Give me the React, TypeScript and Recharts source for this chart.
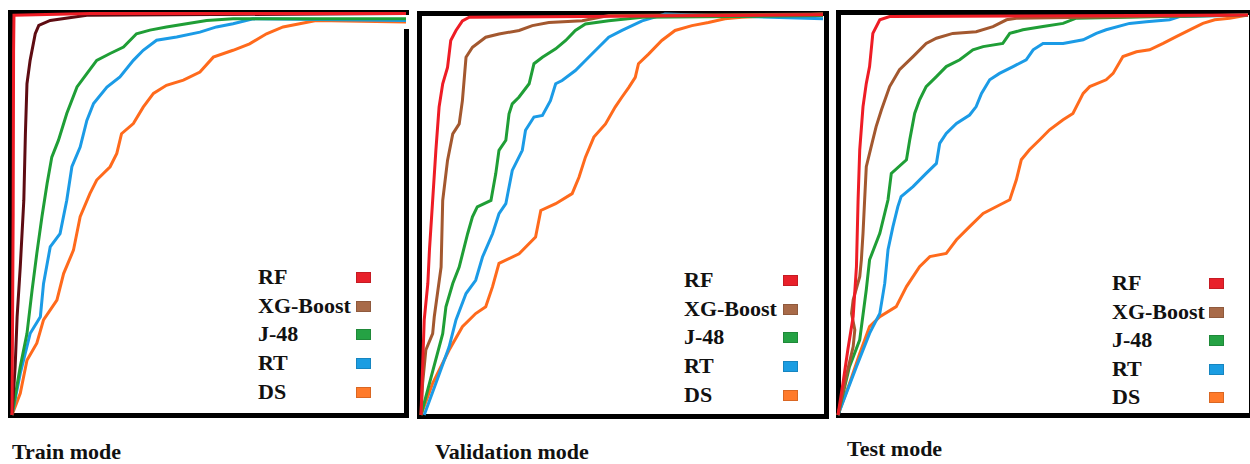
import { LineChart, Line, XAxis, YAxis } from 'recharts';

type Pt = [number, number];

// Series and captions
const seriesNames = ['RF', 'XG-Boost', 'J-48', 'RT', 'DS'];
const panelTitles = ['Train mode', 'Validation mode', 'Test mode'];

// Train mode curves, [false positive rate, true positive rate]
const trainRF: Pt[] = [[0, 0], [0.003, 0.5], [0.004, 0.9], [0.005, 0.992], [0.2, 0.996], [1, 0.996]];
const trainXG: Pt[] = [
  [0, 0], [0.008, 0.12], [0.013, 0.244], [0.021, 0.368], [0.03, 0.533], [0.034, 0.698],
  [0.038, 0.822], [0.046, 0.88], [0.059, 0.946], [0.068, 0.967], [0.097, 0.979], [0.19, 0.992], [1, 0.996],
];
const trainJ48: Pt[] = [
  [0, 0], [0.021, 0.12], [0.038, 0.202], [0.051, 0.31], [0.063, 0.401], [0.076, 0.492], [0.089, 0.574],
  [0.101, 0.64], [0.118, 0.682], [0.139, 0.748], [0.165, 0.814], [0.19, 0.847], [0.215, 0.88],
  [0.249, 0.897], [0.283, 0.913], [0.316, 0.946], [0.35, 0.955], [0.392, 0.963], [0.443, 0.971],
  [0.494, 0.979], [0.561, 0.983], [1, 0.983],
];
const trainRT: Pt[] = [
  [0, 0], [0.021, 0.103], [0.046, 0.202], [0.072, 0.244], [0.08, 0.326], [0.097, 0.417], [0.122, 0.45],
  [0.139, 0.533], [0.152, 0.616], [0.173, 0.665], [0.19, 0.731], [0.207, 0.773], [0.241, 0.814],
  [0.274, 0.839], [0.308, 0.88], [0.333, 0.905], [0.367, 0.93], [0.418, 0.938], [0.477, 0.95],
  [0.519, 0.963], [0.561, 0.971], [0.612, 0.983], [1, 0.979],
];
const trainDS: Pt[] = [
  [0, 0], [0.021, 0.054], [0.038, 0.136], [0.063, 0.178], [0.08, 0.236], [0.114, 0.285], [0.131, 0.351],
  [0.156, 0.409], [0.173, 0.492], [0.198, 0.55], [0.215, 0.583], [0.249, 0.616], [0.266, 0.649],
  [0.278, 0.698], [0.308, 0.723], [0.333, 0.764], [0.359, 0.798], [0.392, 0.818], [0.435, 0.831],
  [0.477, 0.851], [0.511, 0.888], [0.561, 0.905], [0.603, 0.921], [0.646, 0.946], [0.688, 0.963],
  [0.73, 0.971], [0.772, 0.979], [1, 0.975],
];

// Validation mode curves
const valRF: Pt[] = [
  [0, 0], [0.004, 0.12], [0.008, 0.237], [0.017, 0.328], [0.021, 0.411], [0.029, 0.535], [0.037, 0.66],
  [0.045, 0.768], [0.054, 0.826], [0.066, 0.867], [0.074, 0.934], [0.087, 0.959], [0.103, 0.983],
  [0.12, 0.992], [1, 0.998],
];
const valXG: Pt[] = [
  [0, 0], [0.004, 0.079], [0.012, 0.162], [0.029, 0.203], [0.033, 0.245], [0.05, 0.369], [0.054, 0.535],
  [0.066, 0.635], [0.079, 0.701], [0.095, 0.726], [0.103, 0.784], [0.112, 0.892], [0.128, 0.917],
  [0.161, 0.942], [0.194, 0.95], [0.244, 0.959], [0.277, 0.971], [0.318, 0.979], [0.401, 0.983],
  [0.467, 0.996], [1, 1],
];
const valJ48: Pt[] = [
  [0, 0], [0.021, 0.079], [0.054, 0.203], [0.062, 0.27], [0.079, 0.328], [0.095, 0.369], [0.116, 0.452],
  [0.128, 0.494], [0.14, 0.519], [0.174, 0.535], [0.186, 0.602], [0.194, 0.66], [0.211, 0.685],
  [0.219, 0.751], [0.227, 0.776], [0.244, 0.793], [0.269, 0.826], [0.281, 0.876], [0.302, 0.892],
  [0.335, 0.913], [0.36, 0.934], [0.384, 0.959], [0.409, 0.975], [0.467, 0.983], [0.55, 0.992], [1, 0.996],
];
const valRT: Pt[] = [
  [0.008, 0], [0.037, 0.079], [0.07, 0.17], [0.087, 0.237], [0.112, 0.303], [0.136, 0.336], [0.153, 0.394],
  [0.178, 0.452], [0.194, 0.502], [0.211, 0.527], [0.227, 0.61], [0.252, 0.66], [0.26, 0.71],
  [0.281, 0.743], [0.302, 0.747], [0.322, 0.784], [0.335, 0.826], [0.351, 0.834], [0.384, 0.859],
  [0.409, 0.884], [0.442, 0.917], [0.467, 0.942], [0.5, 0.959], [0.55, 0.983], [0.607, 1], [1, 0.988],
];
const valDS: Pt[] = [
  [0, 0], [0.029, 0.079], [0.07, 0.162], [0.103, 0.22], [0.136, 0.253], [0.161, 0.27], [0.178, 0.32],
  [0.194, 0.378], [0.244, 0.402], [0.285, 0.444], [0.298, 0.51], [0.335, 0.527], [0.376, 0.552],
  [0.393, 0.593], [0.409, 0.643], [0.43, 0.693], [0.459, 0.726], [0.483, 0.768], [0.5, 0.793],
  [0.517, 0.817], [0.533, 0.842], [0.541, 0.876], [0.566, 0.9], [0.599, 0.934], [0.632, 0.959],
  [0.674, 0.971], [0.715, 0.979], [0.756, 0.988], [0.798, 0.992], [1, 1],
];

// Test mode curves
const testRF: Pt[] = [
  [0, 0], [0.012, 0.079], [0.024, 0.163], [0.037, 0.246], [0.045, 0.371], [0.049, 0.538], [0.053, 0.663],
  [0.061, 0.771], [0.069, 0.829], [0.077, 0.871], [0.085, 0.954], [0.102, 0.988], [0.126, 0.996], [1, 1],
];
const testXG: Pt[] = [
  [0, 0], [0.02, 0.096], [0.037, 0.171], [0.041, 0.213], [0.033, 0.254], [0.037, 0.288], [0.053, 0.346],
  [0.057, 0.388], [0.061, 0.454], [0.065, 0.538], [0.069, 0.621], [0.085, 0.688], [0.093, 0.721],
  [0.106, 0.763], [0.126, 0.821], [0.15, 0.863], [0.183, 0.896], [0.215, 0.929], [0.24, 0.942],
  [0.28, 0.954], [0.337, 0.958], [0.378, 0.971], [0.411, 0.988], [0.435, 0.992], [1, 1],
];
const testJ48: Pt[] = [
  [0, 0], [0.028, 0.121], [0.053, 0.188], [0.069, 0.313], [0.077, 0.388], [0.102, 0.454], [0.122, 0.538],
  [0.13, 0.604], [0.167, 0.638], [0.175, 0.688], [0.187, 0.754], [0.199, 0.788], [0.215, 0.821],
  [0.24, 0.846], [0.264, 0.871], [0.297, 0.888], [0.329, 0.913], [0.354, 0.921], [0.402, 0.929],
  [0.419, 0.954], [0.451, 0.963], [0.5, 0.971], [0.549, 0.979], [0.581, 0.992], [0.793, 0.996], [1, 1],
];
const testRT: Pt[] = [
  [0, 0], [0.045, 0.121], [0.077, 0.204], [0.102, 0.254], [0.114, 0.329], [0.122, 0.413], [0.134, 0.471],
  [0.146, 0.521], [0.154, 0.546], [0.183, 0.571], [0.215, 0.604], [0.24, 0.629], [0.248, 0.679],
  [0.264, 0.704], [0.289, 0.729], [0.321, 0.75], [0.337, 0.771], [0.35, 0.804], [0.37, 0.838],
  [0.394, 0.854], [0.427, 0.871], [0.459, 0.888], [0.476, 0.913], [0.5, 0.929], [0.549, 0.929],
  [0.598, 0.938], [0.63, 0.954], [0.654, 0.963], [0.711, 0.979], [0.752, 0.983], [0.809, 0.988],
  [0.833, 0.996], [1, 1],
];
const testDS: Pt[] = [
  [0, 0], [0.028, 0.079], [0.053, 0.154], [0.077, 0.221], [0.102, 0.246], [0.142, 0.271], [0.167, 0.321],
  [0.199, 0.371], [0.224, 0.396], [0.264, 0.404], [0.289, 0.438], [0.321, 0.471], [0.354, 0.504],
  [0.394, 0.525], [0.419, 0.538], [0.435, 0.588], [0.447, 0.638], [0.467, 0.663], [0.492, 0.688],
  [0.516, 0.713], [0.549, 0.738], [0.573, 0.754], [0.598, 0.804], [0.614, 0.821], [0.654, 0.838],
  [0.671, 0.854], [0.695, 0.896], [0.728, 0.908], [0.76, 0.913], [0.793, 0.929], [0.825, 0.946],
  [0.858, 0.963], [0.89, 0.979], [0.919, 0.988], [0.955, 0.992], [1, 1],
];

// Colours
const lineColors = ['#ee1c25', '#a3582f', '#1f9e36', '#1b9be6', '#ff6a1c'];
const trainXGColor = '#5e0c12';
const swatchColors = ['#e8202a', '#a86a48', '#25a244', '#1b9de2', '#ff7a2a'];

const serif = '"Liberation Serif"';
const M = 4; // chart margin so lines on the edges are not clipped

interface PanelLayout {
  frame: { left: number; top: number; right: number; bottom: number; rightTop: number };
  plot: { x0: number; x1: number; y1: number; y0: number };
  legend: { textX: number; swatchX: number; rowY: number; step: number };
  caption: { x: number; y: number };
}

const layouts: PanelLayout[] = [
  {
    frame: { left: 8, top: 10, right: 409, bottom: 418, rightTop: 29 },
    plot: { x0: 12, x1: 406, y1: 12, y0: 415 },
    legend: { textX: 258, swatchX: 356, rowY: 277, step: 28.7 },
    caption: { x: 12, y: 441 },
  },
  {
    frame: { left: 417, top: 11, right: 829, bottom: 419, rightTop: 11 },
    plot: { x0: 421, x1: 823, y1: 14, y0: 415 },
    legend: { textX: 684, swatchX: 783, rowY: 280, step: 28.7 },
    caption: { x: 435, y: 441 },
  },
  {
    frame: { left: 836, top: 10, right: 1254, bottom: 418, rightTop: 10 },
    plot: { x0: 838, x1: 1248, y1: 15, y0: 415 },
    legend: { textX: 1112, swatchX: 1209, rowY: 283, step: 28.5 },
    caption: { x: 847, y: 438 },
  },
];

const panels: Pt[][][] = [
  [trainRF, trainXG, trainJ48, trainRT, trainDS],
  [valRF, valXG, valJ48, valRT, valDS],
  [testRF, testXG, testJ48, testRT, testDS],
];

const toRows = (pts: Pt[]) => pts.map(([x, y]) => ({ x, y }));

function Panel({ index }: { index: number }) {
  const { frame, plot, legend, caption } = layouts[index];
  const curves = panels[index];
  const w = plot.x1 - plot.x0;
  const h = plot.y0 - plot.y1;
  // draw order: DS first, RF last (on top)
  const order = [4, 3, 2, 1, 0];

  return (
    <>
      <div
        style={{
          position: 'absolute',
          left: frame.left,
          top: frame.top,
          width: frame.right - frame.left,
          height: frame.bottom - frame.top,
          border: '5px solid #000',
          borderRight: 'none',
          boxSizing: 'border-box',
        }}
      />
      <div
        style={{
          position: 'absolute',
          left: frame.right - 5,
          top: frame.rightTop,
          width: 5,
          height: frame.bottom - frame.rightTop,
          background: '#000',
        }}
      />
      <div style={{ position: 'absolute', left: plot.x0 - M, top: plot.y1 - M }}>
        <LineChart width={w + 2 * M} height={h + 2 * M} margin={{ top: M, right: M, bottom: M, left: M }}>
          <XAxis type="number" dataKey="x" domain={[0, 1]} hide />
          <YAxis type="number" domain={[0, 1]} hide />
          {order.map((i) => (
            <Line
              key={seriesNames[i]}
              data={toRows(curves[i])}
              dataKey="y"
              name={seriesNames[i]}
              type="linear"
              stroke={index === 0 && i === 1 ? trainXGColor : lineColors[i]}
              strokeWidth={3}
              dot={false}
              activeDot={false}
              isAnimationActive={false}
            />
          ))}
        </LineChart>
      </div>
      {seriesNames.map((name, i) => {
        const cy = legend.rowY + i * legend.step;
        return (
          <div key={name}>
            <div
              style={{
                position: 'absolute',
                left: legend.textX,
                top: cy - 14,
                height: 28,
                lineHeight: '28px',
                fontFamily: serif,
                fontWeight: 'bold',
                fontSize: 22,
                color: '#111',
                whiteSpace: 'nowrap',
              }}
            >
              {name}
            </div>
            <div
              style={{
                position: 'absolute',
                left: legend.swatchX,
                top: cy - 5,
                width: 15,
                height: 11,
                background: swatchColors[i],
                boxShadow: 'inset 0 0 0 1px rgba(0,0,0,0.15)',
              }}
            />
          </div>
        );
      })}
      <div
        style={{
          position: 'absolute',
          left: caption.x,
          top: caption.y,
          height: 22,
          lineHeight: '22px',
          fontFamily: serif,
          fontWeight: 'bold',
          fontSize: 22,
          color: '#111',
          whiteSpace: 'nowrap',
        }}
      >
        {panelTitles[index]}
      </div>
    </>
  );
}

export default function App() {
  return (
    <div
      style={{
        position: 'absolute',
        left: 0,
        top: 0,
        width: 1250,
        height: 464,
        background: '#fff',
        overflow: 'hidden',
      }}
    >
      {panelTitles.map((t, i) => (
        <Panel key={t} index={i} />
      ))}
    </div>
  );
}
